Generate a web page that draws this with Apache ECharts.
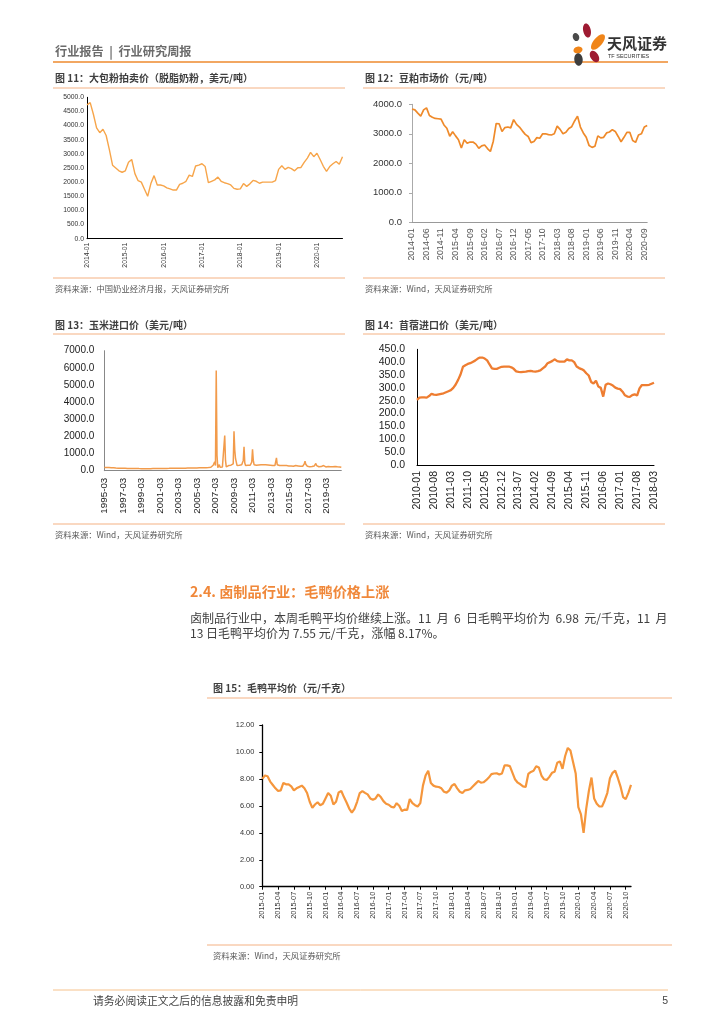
<!DOCTYPE html>
<html><head><meta charset="utf-8">
<script src="https://cdn.jsdelivr.net/npm/echarts@6/dist/echarts.min.js"></script>
<style>html,body{margin:0;padding:0;background:#fff}#c{width:724px;height:1024px}</style>
</head><body><div id="c"></div><script>
// ---------- helpers for category labels ----------
function months(y, m, n) { var out = []; for (var i = 0; i < n; i++) { out.push(y + '-' + (m < 10 ? '0' + m : m)); m++; if (m > 12) { m = 1; y++; } } return out; }
function halfMonths(y, m, n) { var out = []; for (var i = 0; i < n; i++) { var mm = (m < 10 ? '0' + m : '' + m); out.push(y + '-' + mm + (i % 2 === 0 ? '-01' : '-16')); if (i % 2 === 1) { m++; if (m > 12) { m = 1; y++; } } } return out; }

// ---------- data ----------
var cat11 = months(2014, 1, 81);
var milkPowder = [4730,4810,4400,3920,3750,3870,3650,3150,2600,2500,
2400,2350,2400,2700,2800,2300,2050,2000,1750,1500,
1950,2230,1900,1900,1870,1800,1760,1720,1720,1920,
1960,2030,2250,2200,2570,2600,2650,2550,1980,2030,
2080,2180,2030,1980,1950,1900,1780,1750,1760,1950,
1850,1940,2060,2030,1960,2000,2000,2000,2000,2050,
2450,2580,2450,2520,2480,2400,2510,2520,2700,2850,
3050,2900,3020,2800,2560,2380,2550,2650,2730,2630,
2900];

var cat12 = months(2014, 1, 82);
var soyMeal = [3840,3810,3700,3600,3810,3880,3620,3560,3520,3510,
3500,3300,3190,2920,3070,2930,2800,2520,2800,2680,
2720,2720,2650,2510,2590,2620,2500,2400,2750,3350,
3340,3080,3210,3230,3200,3480,3320,3230,3100,2980,
2910,2700,2740,2870,2850,3000,3000,2970,2960,3000,
3260,3150,3000,3050,3180,3240,3435,3600,3230,3030,
2880,2600,2540,2580,2930,2860,2880,3030,3060,3140,
3080,2910,2730,2880,3050,3050,2770,2710,2960,3000,
3230,3280];

var cat13 = months(1995, 3, 308);
var cornImport = [180,185,190,190,185,180,180,175,175,170,170,165,
165,160,160,155,155,150,150,150,148,148,145,145,
140,140,138,138,136,135,135,135,132,132,130,130,
128,128,126,126,125,125,125,124,124,122,122,120,
120,120,118,118,118,120,120,122,122,120,120,120,
120,122,122,124,124,125,125,126,126,128,128,128,
128,130,130,130,132,132,132,134,134,135,135,135,
136,136,138,138,138,140,140,140,142,142,142,144,
144,145,145,146,146,148,148,150,150,150,152,152,
154,155,155,156,156,158,158,160,160,160,162,162,
162,164,164,165,165,166,166,168,168,170,170,172,
172,175,178,180,185,190,200,220,260,320,420,520,
300,5850,900,180,220,350,200,170,250,220,180,260,
2050,600,220,200,260,300,250,280,320,300,350,400,
2300,1200,700,650,300,280,300,320,300,330,350,380,
600,1400,450,300,280,300,320,300,310,320,350,500,
1250,600,350,330,340,320,330,340,330,340,330,340,
340,330,350,340,330,340,350,340,330,320,330,320,
320,330,310,300,310,300,320,750,350,300,310,300,
300,310,300,290,300,310,300,290,300,300,290,280,
290,280,270,280,270,260,270,280,300,350,320,280,
200,220,260,250,240,260,300,400,550,380,300,260,
280,250,230,260,240,250,260,300,280,300,420,300,
250,240,230,250,260,240,220,280,300,250,230,220,
220,230,240,230,220,230,250,240,230,220,230,250,
260,240,230,220,210,220,230,200];

var cat14 = months(2010, 1, 99);
var alfalfa = [253,262,263,263,262,268,277,274,273,275,
277,279,283,287,291,300,313,331,352,382,
388,393,396,401,406,413,418,418,414,407,
391,376,374,374,378,382,383,383,383,380,
374,364,362,361,362,363,365,366,364,363,
365,368,376,383,396,400,405,411,404,402,
402,402,411,407,407,400,383,377,373,368,
357,348,323,317,328,305,300,266,312,317,
314,309,301,297,295,285,271,266,265,272,
275,270,298,311,311,311,312,316,320];

var cat15 = halfMonths(2015, 1, 141);
var duckPrice = [8.0,8.25,8.2,7.8,7.55,7.3,7.1,7.15,7.7,7.6,
7.6,7.45,7.15,7.3,7.4,7.5,7.3,6.95,6.3,5.85,
6.1,6.27,6.05,6.15,6.55,6.95,6.75,6.1,6.3,7.0,
7.1,6.65,6.25,5.8,5.5,5.78,6.3,6.95,7.1,6.96,
6.85,6.55,6.45,6.55,6.85,6.65,6.35,6.15,6.08,5.92,
5.88,6.2,6.0,5.62,5.72,5.7,6.5,6.2,6.05,5.95,
6.2,7.5,8.25,8.6,7.7,7.5,7.42,7.4,7.3,7.05,
6.98,7.15,7.5,7.62,7.3,7.05,6.95,7.15,7.18,7.25,
7.45,7.65,7.85,7.72,7.75,7.9,8.1,8.35,8.4,8.42,
8.32,8.4,9.0,9.0,8.95,8.45,7.95,7.72,7.6,7.45,
7.4,8.37,8.52,8.6,8.94,8.85,8.25,7.97,7.92,8.15,
8.45,8.53,9.2,9.3,8.75,9.7,10.3,10.1,9.25,8.4,
5.9,5.36,4.0,5.8,7.1,8.1,6.55,6.15,5.95,5.95,
6.4,6.95,8.05,8.45,8.62,8.07,7.45,6.65,6.5,6.96,
7.55];

// ---------- texts ----------
var CJK = '"Noto Sans CJK SC", "Noto Sans", sans-serif';
var NUM = '"Liberation Sans", Arial, sans-serif';

function txt(x, y, s, size, color, weight, family, align) {
  return { type: 'text', x: x, y: y, silent: true, style: { text: s, fontSize: size, fill: color, fontWeight: weight || 'normal', fontFamily: family || CJK, verticalAlign: 'middle', align: align || 'left' } };
}
function ln(x1, y1, x2, y2, color, w) {
  return { type: 'line', silent: true, shape: { x1: x1, y1: y1, x2: x2, y2: y2 }, style: { stroke: color, lineWidth: w } };
}
function petal(x, y, rx, ry, rot, color) {
  return { type: 'ellipse', x: x, y: y, rotation: rot, silent: true, shape: { cx: 0, cy: 0, rx: rx, ry: ry }, style: { fill: color } };
}

var TITLE_C = '#3f3f3f', LINE_C = '#F4B183', SRC_C = '#595959';
var graphics = [
  txt(55, 51, '行业报告  |  行业研究周报', 12.2, '#6b6b6b', 'bold'),
  ln(53, 62, 668, 62, '#EE8A2E', 1.5),
  petal(587, 30.5, 3.8, 7.2, 0.2, '#9E1B32'),
  petal(576, 37, 3.2, 4.2, 0.3, '#4a4a4a'),
  petal(598, 42, 4.4, 9.5, -0.7, '#F08519'),
  petal(578, 50, 4.6, 3.4, 0.2, '#F08519'),
  petal(578.5, 59.5, 4.2, 6.2, 0.1, '#3d3d3d'),
  petal(594.5, 56.5, 4, 6.3, 0.55, '#9E1B32'),
  txt(607, 43, '天风证券', 15, '#333', 'bold'),
  txt(608, 56.5, 'TF SECURITIES', 5.5, '#333', 'normal', NUM),

  txt(55, 78, '图 11：大包粉拍卖价（脱脂奶粉，美元/吨）', 10, TITLE_C, 'bold'),
  ln(53, 88, 345, 88, LINE_C, 1),
  ln(53, 278, 345, 278, LINE_C, 1),
  txt(55, 289, '资料来源：中国奶业经济月报，天风证券研究所', 8.3, SRC_C),

  txt(365, 78, '图 12：豆粕市场价（元/吨）', 10, TITLE_C, 'bold'),
  ln(363, 88, 665, 88, LINE_C, 1),
  ln(363, 278, 665, 278, LINE_C, 1),
  txt(365, 289, '资料来源：Wind，天风证券研究所', 8.3, SRC_C),

  txt(55, 325, '图 13：玉米进口价（美元/吨）', 10, TITLE_C, 'bold'),
  ln(53, 334, 345, 334, LINE_C, 1),
  ln(53, 524, 345, 524, LINE_C, 1),
  txt(55, 535, '资料来源：Wind，天风证券研究所', 8.3, SRC_C),

  txt(365, 325, '图 14：苜蓿进口价（美元/吨）', 10, TITLE_C, 'bold'),
  ln(363, 334, 665, 334, LINE_C, 1),
  ln(363, 524, 665, 524, LINE_C, 1),
  txt(365, 535, '资料来源：Wind，天风证券研究所', 8.3, SRC_C),

  txt(190, 592, '2.4. 卤制品行业：毛鸭价格上涨', 14.2, '#F0883A', 'bold'),
  txt(190, 618, '卤制品行业中，本周毛鸭平均价继续上涨。11  月  6  日毛鸭平均价为  6.98  元/千克，11  月', 12, '#404040'),
  txt(190, 633.5, '13 日毛鸭平均价为 7.55 元/千克，涨幅 8.17%。', 12, '#404040'),

  txt(213, 688, '图 15：毛鸭平均价（元/千克）', 10, TITLE_C, 'bold'),
  ln(207, 698, 672, 698, LINE_C, 1),
  ln(207, 945, 672, 945, LINE_C, 1),
  txt(213, 956, '资料来源：Wind，天风证券研究所', 8.3, SRC_C),

  ln(53, 990, 668, 990, '#F6C28C', 1),
  txt(93, 1001, '请务必阅读正文之后的信息披露和免责申明', 10.8, '#444'),
  txt(668, 1001, '5', 10.5, '#444', 'normal', NUM, 'right')
];

// ---------- axes ----------
function xCat(idx, data, o) {
  return { type: 'category', gridIndex: idx, data: data, boundaryGap: false,
    axisLine: { show: true, lineStyle: { color: o.axis, width: o.aw || 1 } },
    axisTick: { show: !!o.tick, interval: o.interval, length: 3, lineStyle: { color: o.axis } },
    axisLabel: { interval: o.interval, rotate: 90, fontSize: o.fs, color: o.lc, fontFamily: NUM, margin: o.margin,
      formatter: function (v) { return v.slice(0, 7); } },
    splitLine: { show: false } };
}
function yVal(idx, max, step, o) {
  return { type: 'value', gridIndex: idx, min: 0, max: max, interval: step,
    axisLine: { show: true, lineStyle: { color: o.axis, width: o.aw || 1 } },
    axisTick: { show: !!o.tick, length: 3, lineStyle: { color: o.axis } },
    axisLabel: { fontSize: o.fs, color: o.lc, fontFamily: NUM, margin: o.margin,
      formatter: function (v) { return v.toFixed(o.dec); } },
    splitLine: { show: false } };
}
function ser(idx, data, color, w) {
  return { type: 'line', xAxisIndex: idx, yAxisIndex: idx, data: data, symbol: 'none', showSymbol: false,
    lineStyle: { color: color, width: w }, itemStyle: { color: color }, animation: false, silent: true };
}

var option = {
  animation: false,
  backgroundColor: '#fff',
  graphic: graphics,
  grid: [
    { left: 87, top: 97.3, width: 255.5, height: 141.4 },
    { left: 412, top: 104.3, width: 235.2, height: 118 },
    { left: 104.3, top: 350.7, width: 237, height: 120 },
    { left: 417, top: 349.3, width: 237, height: 115.7 },
    { left: 262.3, top: 725, width: 368.7, height: 161.7 }
  ],
  xAxis: [
    xCat(0, cat11, { axis: '#000', interval: 11, fs: 6.8, lc: '#333', margin: 4 }),
    xCat(1, cat12, { axis: '#999', interval: 4, fs: 8.8, lc: '#555', margin: 6 }),
    xCat(2, cat13, { axis: '#888', interval: 23, fs: 9.8, lc: '#222', margin: 7 }),
    xCat(3, cat14, { axis: '#000', interval: 6, fs: 10.5, lc: '#222', margin: 6 }),
    xCat(4, cat15, { axis: '#000', aw: 1.3, interval: 5, fs: 7.4, lc: '#333', margin: 5, tick: true })
  ],
  yAxis: [
    yVal(0, 5000, 500, { axis: '#000', fs: 6.8, lc: '#333', margin: 3, dec: 1 }),
    yVal(1, 4000, 1000, { axis: '#aaa', fs: 9.5, lc: '#333', margin: 10, dec: 1, tick: true }),
    yVal(2, 7000, 1000, { axis: '#888', fs: 10, lc: '#222', margin: 10, dec: 1 }),
    yVal(3, 450, 50, { axis: '#000', fs: 10.5, lc: '#222', margin: 12, dec: 1 }),
    yVal(4, 12, 2, { axis: '#000', aw: 1.3, fs: 7.4, lc: '#333', margin: 8, dec: 2, tick: true })
  ],
  series: [
    ser(0, milkPowder, '#F7A54A', 1.4),
    ser(1, soyMeal, '#EF8A2A', 1.7),
    ser(2, cornImport, '#F29B4B', 1.5),
    ser(3, alfalfa, '#EE7D31', 2.3),
    ser(4, duckPrice, '#F5963C', 2.2)
  ]
};
var chart = echarts.init(document.getElementById('c'), null, { renderer: 'canvas' });
chart.setOption(option);
</script></body></html>
